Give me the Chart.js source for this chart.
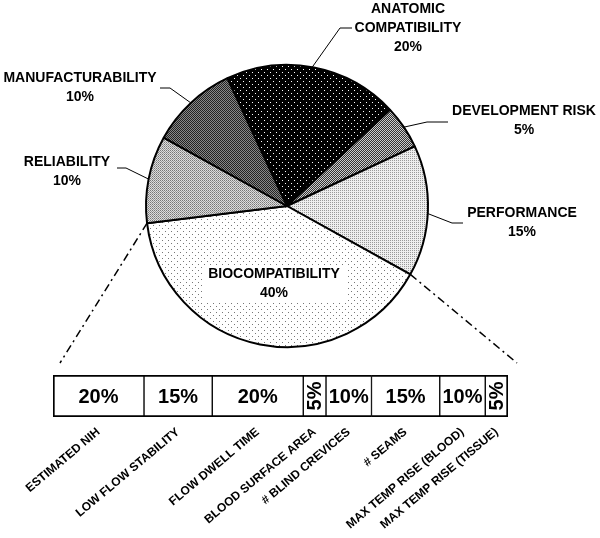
<!DOCTYPE html>
<html><head><meta charset="utf-8">
<script src="https://cdn.jsdelivr.net/npm/chart.js@4"></script>
<style>
html,body{margin:0;padding:0;background:#fff}
#wrap{position:relative;width:600px;height:538px}
canvas{position:absolute;left:0;top:0}
</style>
</head><body>
<div id="wrap"><canvas id="pie" width="600" height="538"></canvas><canvas id="bar" width="600" height="538"></canvas></div>
<script>
// ---- data ----
const pieLabels = [['ANATOMIC','COMPATIBILITY'], ['DEVELOPMENT RISK'], ['PERFORMANCE'], ['BIOCOMPATIBILITY'], ['RELIABILITY'], ['MANUFACTURABILITY']];
const pieValues = [20, 5, 15, 40, 10, 10];
const barLabels = ['ESTIMATED NIH', 'LOW FLOW STABILITY', 'FLOW DWELL TIME', 'BLOOD SURFACE AREA', '# BLIND CREVICES', '# SEAMS', 'MAX TEMP RISE (BLOOD)', 'MAX TEMP RISE (TISSUE)'];
const barValues = [20, 15, 20, 5, 10, 15, 10, 5];

const FONT = "'Liberation Sans', Arial, sans-serif";

const pieCanvas = document.getElementById('pie');
const pctx = pieCanvas.getContext('2d');
function pattern(size, bg, dots) {
  const c = document.createElement('canvas');
  c.width = c.height = size;
  const x = c.getContext('2d');
  x.fillStyle = bg; x.fillRect(0, 0, size, size);
  dots.forEach(([px, py, col]) => { x.fillStyle = col; x.fillRect(px, py, 1, 1); });
  return pctx.createPattern(c, 'repeat');
}
const pieFills = [
  pattern(6, '#000', [[0,0,'#fff'],[3,3,'#fff']]),
  pattern(2, '#333', [[0,0,'#ccc'],[1,1,'#ccc']]),
  pattern(2, '#eee', [[0,0,'#999']]),
  pattern(6, '#fff', [[0,0,'#777'],[3,3,'#777']]),
  pattern(2, '#ddd', [[0,0,'#777'],[1,1,'#999']]),
  pattern(2, '#888', [[0,0,'#222'],[1,1,'#222']])
];

function arcPoint(arc, t) {
  const a = arc.startAngle + t * (arc.endAngle - arc.startAngle);
  return [arc.x + arc.outerRadius * Math.cos(a), arc.y + arc.outerRadius * Math.sin(a)];
}

const pieLabelPlugin = {
  id: 'pieLabels',
  afterDraw(chart) {
    const ctx = chart.ctx;
    const arcs = chart.getDatasetMeta(0).data;
    // placement per slice (same order as data)
    const place = [
      {t: 0.49, path: [[340, 28], [352, 28]], cx: 408, cy: 9},
      {t: 0.5, path: [[427, 122], [448, 122]], cx: 524, cy: 111},
      {t: 0.52, path: [[452, 223], [463, 223]], cx: 522, cy: 213},
      {inside: true, cx: 274, cy: 274, box: [202, 265, 146, 37]},
      {t: 0.5, path: [[126, 168], [117, 168]], cx: 67, cy: 162},
      {t: 0.5, path: [[170, 88], [160, 88]], cx: 80, cy: 78}
    ];
    ctx.save();
    ctx.strokeStyle = '#000';
    ctx.lineWidth = 1;
    ctx.fillStyle = '#000';
    ctx.font = 'bold 14px ' + FONT;
    ctx.textAlign = 'center';
    ctx.textBaseline = 'middle';
    arcs.forEach((arc, i) => {
      const p = place[i];
      if (p.inside) {
        ctx.fillStyle = '#fff';
        ctx.fillRect(p.box[0], p.box[1], p.box[2], p.box[3]);
        ctx.fillStyle = '#000';
      } else {
        const s = arcPoint(arc, p.t);
        ctx.beginPath();
        ctx.moveTo(s[0], s[1]);
        p.path.forEach(q => ctx.lineTo(q[0], q[1]));
        ctx.stroke();
      }
      const lines = pieLabels[i].concat([pieValues[i] + '%']);
      lines.forEach((ln, k) => {
        ctx.fillText(ln, p.cx, p.cy + k * 19);
      });
    });
    ctx.restore();
  }
};

const pieChart = new Chart(pieCanvas, {
  type: 'pie',
  data: {
    labels: pieLabels,
    datasets: [{
      data: pieValues,
      backgroundColor: pieFills,
      borderColor: '#000',
      borderWidth: 2
    }]
  },
  options: {
    responsive: false,
    animation: false,
    rotation: -25,
    layout: {padding: {left: 145, right: 171, top: 64, bottom: 190}},
    plugins: {legend: {display: false}, tooltip: {enabled: false}}
  },
  plugins: [pieLabelPlugin]
});

// ---- bar ----
const mids = [];
{
  let acc = 0;
  barValues.forEach(v => { mids.push(acc + v / 2); acc += v; });
}

const barValuePlugin = {
  id: 'barValues',
  afterDatasetsDraw(chart) {
    const ctx = chart.ctx;
    ctx.save();
    ctx.fillStyle = '#000';
    ctx.font = 'bold 20px ' + FONT;
    ctx.textAlign = 'center';
    ctx.textBaseline = 'middle';
    barValues.forEach((v, i) => {
      const el = chart.getDatasetMeta(i).data[0];
      const cx = (el.x + el.base) / 2;
      const w = Math.abs(el.x - el.base);
      const txt = v + '%';
      if (w < 30) {
        ctx.save();
        ctx.translate(cx + 1, el.y);
        ctx.rotate(-Math.PI / 2);
        ctx.fillText(txt, 0, 0);
        ctx.restore();
      } else {
        ctx.fillText(txt, cx, el.y + 1);
      }
    });
    // dash-dot connector lines from the biocompatibility slice to the bar
    const arc = pieChart.getDatasetMeta(0).data[3];
    const a = chart.chartArea;
    const s1 = arcPoint(arc, 1), s2 = arcPoint(arc, 0);
    ctx.strokeStyle = '#000';
    ctx.lineWidth = 1.5;
    ctx.setLineDash([8, 4, 2, 4]);
    ctx.beginPath();
    ctx.moveTo(s1[0], s1[1]); ctx.lineTo(a.left + 7, a.top - 12);
    ctx.moveTo(s2[0], s2[1]); ctx.lineTo(a.right + 9, a.top - 12);
    ctx.stroke();
    ctx.restore();
  }
};

new Chart(document.getElementById('bar'), {
  type: 'bar',
  data: {
    labels: [''],
    datasets: barValues.map((v, i) => ({
      label: barLabels[i],
      data: [v],
      backgroundColor: '#fff',
      borderColor: '#000',
      borderWidth: {top: 2, bottom: 2, left: i === 0 ? 2 : 1, right: i === barValues.length - 1 ? 2 : 1},
      borderSkipped: false,
      barPercentage: 1,
      categoryPercentage: 1
    }))
  },
  options: {
    responsive: false,
    animation: false,
    indexAxis: 'y',
    layout: {padding: {left: 53, right: 92, top: 375, bottom: 0}},
    plugins: {legend: {display: false}, tooltip: {enabled: false}},
    scales: {
      x: {
        type: 'linear', stacked: true, min: 0, max: 100,
        grid: {display: false}, border: {display: false},
        afterBuildTicks: s => { s.ticks = mids.map(v => ({value: v})); },
        afterFit: s => { s.height = 121; },
        ticks: {
          autoSkip: false, minRotation: 40, maxRotation: 40, padding: 0,
          color: '#000', font: {family: FONT, size: 12, weight: 'bold'},
          callback: (v, i) => barLabels[i]
        }
      },
      y: {stacked: true, display: false}
    }
  },
  plugins: [barValuePlugin]
});
</script>
</body></html>
